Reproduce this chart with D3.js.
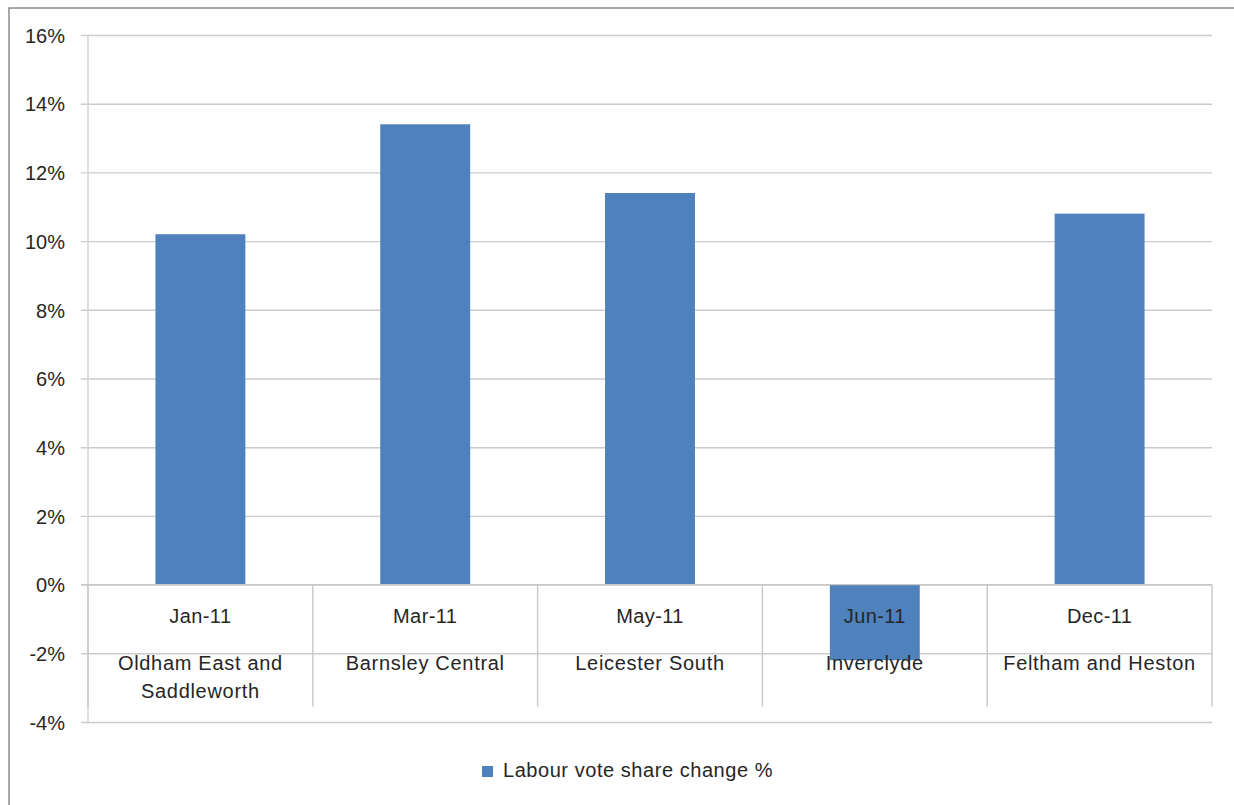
<!DOCTYPE html>
<html>
<head>
<meta charset="utf-8">
<script src="https://cdnjs.cloudflare.com/ajax/libs/d3/7.8.5/d3.min.js"></script>
<style>
  body { margin: 0; background: #fff; }
  svg text { font-family: "Liberation Sans", Arial, sans-serif; fill: #262626; }
</style>
</head>
<body>
<div class="visuals"></div>
<script>
var months = ['Jan-11', 'Mar-11', 'May-11', 'Jun-11', 'Dec-11'];
var seats = [['Oldham East and', 'Saddleworth'], ['Barnsley Central'], ['Leicester South'], ['Inverclyde'], ['Feltham and Heston']];
var labourChange = [10.2, 13.4, 11.4, -2.2, 10.8];
var yTicks = [-4, -2, 0, 2, 4, 6, 8, 10, 12, 14, 16];
var seriesName = 'Labour vote share change %';

var width = 1234, height = 805;
var plotLeft = 88, plotRight = 1212, plotTop = 35, plotBottom = 722;

var svg = d3.select('.visuals').append('svg')
  .attr('width', width)
  .attr('height', height);

// outer chart frame
svg.append('rect')
  .attr('x', 9).attr('y', 8)
  .attr('width', 1240).attr('height', 820)
  .style('fill', 'white')
  .style('stroke', '#8a8a8a')
  .style('stroke-width', '1.5px');

var y = d3.scaleLinear().domain([-4, 16]).range([plotBottom, plotTop]);
var x = d3.scaleBand().domain(months).range([plotLeft, plotRight])
  .paddingInner(0.6).paddingOuter(0.3);

// gridlines + y labels
var yAxis = d3.axisLeft(y)
  .tickValues(yTicks)
  .tickSize(-(plotRight - plotLeft + 7))
  .tickPadding(16)
  .tickFormat(function(d){ return d + '%'; });

var ga = svg.append('g')
  .attr('transform', 'translate(' + (plotLeft - 7) + ',0)')
  .call(yAxis);
ga.select('.domain').remove();
ga.selectAll('.tick line').style('stroke', '#cccccc').style('stroke-width', '1.4px');
ga.selectAll('.tick text')
  .style('font-size', '20px')
  .attr('dy', '0.36em')
  .attr('x', -16);

// vertical axis line
svg.append('line')
  .attr('x1', plotLeft).attr('x2', plotLeft)
  .attr('y1', plotTop).attr('y2', plotBottom)
  .style('stroke', '#d0d0d0').style('stroke-width', '1.4px');

// category separators
var edges = months.map(function(m){ return x(m) - x.step() * x.paddingInner() / 2; });
edges[0] = plotLeft;
edges.push(plotRight);
svg.selectAll('line.sep')
  .data(edges)
  .enter().append('line')
  .attr('class', 'sep')
  .attr('x1', function(d){ return d; })
  .attr('x2', function(d){ return d; })
  .attr('y1', y(0))
  .attr('y2', y(0) + 122)
  .style('stroke', '#c8c8c8')
  .style('stroke-width', '1.4px');

// bars
svg.selectAll('rect.bar')
  .data(labourChange)
  .enter().append('rect')
  .attr('class', 'bar')
  .attr('x', function(d, i){ return x(months[i]); })
  .attr('width', x.bandwidth())
  .attr('y', function(d){ return y(Math.max(0, d)); })
  .attr('height', function(d){ return Math.abs(y(d) - y(0)); })
  .style('fill', '#4f81bd');

// zero axis line
svg.append('line')
  .attr('x1', plotLeft - 7).attr('x2', plotRight)
  .attr('y1', y(0)).attr('y2', y(0))
  .style('stroke', '#c8c8c8').style('stroke-width', '1.4px');

// category labels, two levels
var centre = function(i){ return x(months[i]) + x.bandwidth() / 2; };

svg.selectAll('text.month')
  .data(months)
  .enter().append('text')
  .attr('class', 'month')
  .attr('x', function(d, i){ return centre(i); })
  .attr('y', y(0) + 38)
  .attr('text-anchor', 'middle')
  .style('font-size', '20px')
  .style('letter-spacing', '0.4px')
  .text(function(d){ return d; });

seats.forEach(function(lines, i){
  svg.selectAll(null)
    .data(lines)
    .enter().append('text')
    .attr('x', centre(i))
    .attr('y', function(d, j){ return y(0) + 85 + j * 28; })
    .attr('text-anchor', 'middle')
    .style('font-size', '20px')
    .style('letter-spacing', '0.7px')
    .text(function(d){ return d; });
});

// legend
var lg = svg.append('g').attr('transform', 'translate(482,766)');
lg.append('rect')
  .attr('width', 11).attr('height', 11)
  .style('fill', '#4f81bd');
lg.append('text')
  .attr('x', 21).attr('y', 11)
  .style('font-size', '20px')
  .style('letter-spacing', '0.55px')
  .text(seriesName);
</script>
</body>
</html>
